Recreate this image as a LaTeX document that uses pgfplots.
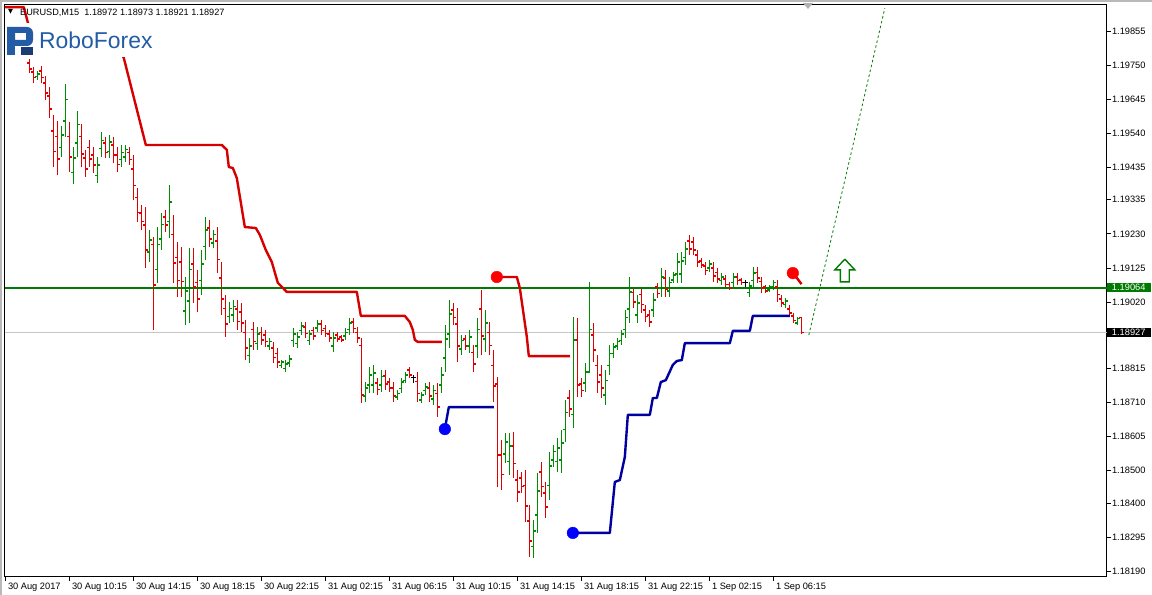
\documentclass[border=0pt]{standalone}
\usepackage{pgfplots}
\pgfplotsset{compat=1.18}
\usepackage{pgfplotstable}
\usepackage{fontspec}
\setmainfont{Liberation Sans}
\newfontfamily\dejavu{DejaVu Sans}

\definecolor{barG}{RGB}{0,140,0}
\definecolor{barR}{RGB}{225,0,0}
\definecolor{indR}{RGB}{215,0,0}
\definecolor{dotR}{RGB}{255,0,0}
\definecolor{indB}{RGB}{0,0,160}
\definecolor{dotB}{RGB}{0,0,255}
\definecolor{lvlG}{RGB}{0,122,0}
\definecolor{logoB}{RGB}{35,92,165}
\definecolor{logoD}{RGB}{25,60,115}

\pgfplotstableread{
i H L O C
6 1.19769 1.19726 1.19757 1.19738
7 1.19744 1.19695 1.19729 1.19711
9 1.19747 1.19695 1.19732 1.19711
10 1.19717 1.19643 1.19695 1.19664
11 1.19683 1.19587 1.19655 1.19615
12 1.19596 1.19436 1.19547 1.19485
13 1.19578 1.19411 1.19529 1.19461
16 1.19575 1.19421 1.19529 1.19467
19 1.19569 1.19436 1.19529 1.19476
20 1.19489 1.19405 1.19464 1.19430
21 1.19519 1.19436 1.19495 1.19461
22 1.19498 1.19418 1.19473 1.19442
25 1.19529 1.19464 1.19510 1.19482
27 1.19529 1.19448 1.19504 1.19473
28 1.19498 1.19421 1.19473 1.19445
31 1.19498 1.19442 1.19482 1.19458
32 1.19473 1.19334 1.19430 1.19378
33 1.19371 1.19267 1.19341 1.19297
34 1.19319 1.19242 1.19294 1.19267
35 1.19313 1.19125 1.19257 1.19180
37 1.19220 1.18934 1.19196 1.19072
40 1.19304 1.19236 1.19282 1.19257
42 1.19288 1.19079 1.19227 1.19140
43 1.19205 1.19035 1.19156 1.19085
44 1.19190 1.19035 1.19143 1.19082
47 1.19186 1.19017 1.19137 1.19066
48 1.19119 1.18989 1.19079 1.19029
51 1.19273 1.19190 1.19248 1.19214
53 1.19251 1.19109 1.19208 1.19152
54 1.19143 1.18980 1.19094 1.19029
55 1.19042 1.18912 1.19001 1.18952
58 1.19026 1.18934 1.18998 1.18961
59 1.19017 1.18927 1.18989 1.18955
60 1.18964 1.18841 1.18927 1.18878
62 1.18958 1.18872 1.18934 1.18897
64 1.18943 1.18887 1.18927 1.18903
65 1.18934 1.18881 1.18918 1.18897
67 1.18897 1.18832 1.18878 1.18850
68 1.18878 1.18816 1.18860 1.18835
75 1.18958 1.18909 1.18943 1.18924
77 1.18943 1.18903 1.18931 1.18915
79 1.18964 1.18918 1.18952 1.18931
80 1.18949 1.18912 1.18937 1.18924
81 1.18934 1.18897 1.18921 1.18909
83 1.18927 1.18897 1.18918 1.18906
84 1.18918 1.18897 1.18912 1.18903
87 1.18971 1.18924 1.18958 1.18937
88 1.18943 1.18893 1.18927 1.18909
89 1.18909 1.18709 1.18887 1.18733
93 1.18786 1.18733 1.18770 1.18749
95 1.18810 1.18749 1.18792 1.18767
96 1.18786 1.18742 1.18773 1.18755
97 1.18773 1.18712 1.18755 1.18730
101 1.18820 1.18786 1.18810 1.18795
103 1.18804 1.18712 1.18776 1.18739
106 1.18773 1.18712 1.18755 1.18730
108 1.18770 1.18665 1.18739 1.18696
112 1.19017 1.18949 1.18995 1.18971
113 1.19001 1.18835 1.18952 1.18884
115 1.18918 1.18872 1.18906 1.18884
117 1.18887 1.18804 1.18863 1.18829
119 1.19057 1.18856 1.18998 1.18915
121 1.18958 1.18856 1.18927 1.18887
122 1.18872 1.18712 1.18823 1.18761
123 1.18789 1.18450 1.18767 1.18548
124 1.18595 1.18440 1.18548 1.18487
127 1.18619 1.18477 1.18576 1.18521
128 1.18502 1.18403 1.18471 1.18434
129 1.18496 1.18431 1.18477 1.18450
130 1.18502 1.18342 1.18453 1.18391
131 1.18394 1.18234 1.18345 1.18283
134 1.18527 1.18419 1.18496 1.18450
135 1.18465 1.18354 1.18431 1.18388
141 1.18749 1.18665 1.18724 1.18690
143 1.18971 1.18727 1.18903 1.18764
144 1.18786 1.18727 1.18767 1.18746
147 1.18955 1.18835 1.18918 1.18872
148 1.18856 1.18739 1.18823 1.18773
149 1.18826 1.18724 1.18795 1.18755
157 1.19066 1.19001 1.19048 1.19020
159 1.19066 1.18986 1.19042 1.19011
160 1.19011 1.18958 1.18995 1.18974
161 1.18995 1.18943 1.18980 1.18958
163 1.19079 1.19032 1.19066 1.19045
165 1.19119 1.19035 1.19094 1.19060
171 1.19227 1.19165 1.19208 1.19183
172 1.19220 1.19165 1.19205 1.19180
173 1.19180 1.19128 1.19165 1.19143
174 1.19156 1.19125 1.19146 1.19134
175 1.19143 1.19103 1.19131 1.19116
177 1.19143 1.19082 1.19125 1.19100
178 1.19125 1.19079 1.19112 1.19091
180 1.19103 1.19063 1.19091 1.19075
181 1.19082 1.19057 1.19075 1.19063
183 1.19109 1.19072 1.19097 1.19085
184 1.19094 1.19072 1.19088 1.19079
188 1.19128 1.19079 1.19112 1.19094
189 1.19097 1.19048 1.19082 1.19063
190 1.19072 1.19048 1.19066 1.19054
193 1.19088 1.19020 1.19066 1.19042
194 1.19042 1.19005 1.19029 1.19017
196 1.19011 1.18974 1.18998 1.18986
197 1.18986 1.18955 1.18977 1.18964
199 1.18973 1.18921 1.18972 1.18927
}\redbars

\pgfplotstableread{
i H L O C
8 1.19732 1.19704 1.19714 1.19723
14 1.19562 1.19467 1.19495 1.19535
15 1.19692 1.19529 1.19578 1.19643
17 1.19498 1.19384 1.19418 1.19464
18 1.19609 1.19467 1.19510 1.19566
23 1.19467 1.19387 1.19411 1.19442
24 1.19544 1.19467 1.19492 1.19519
26 1.19535 1.19464 1.19485 1.19513
29 1.19504 1.19436 1.19458 1.19482
30 1.19504 1.19452 1.19467 1.19489
36 1.19242 1.19143 1.19174 1.19211
38 1.19251 1.19079 1.19119 1.19196
39 1.19294 1.19180 1.19214 1.19260
41 1.19381 1.19217 1.19267 1.19328
45 1.19097 1.18949 1.18992 1.19054
46 1.19186 1.18955 1.19023 1.19119
49 1.19180 1.19042 1.19085 1.19137
50 1.19282 1.19149 1.19190 1.19242
52 1.19242 1.19186 1.19202 1.19227
56 1.19020 1.18955 1.18974 1.19001
57 1.19026 1.18958 1.18980 1.19005
61 1.18909 1.18832 1.18856 1.18884
63 1.18943 1.18872 1.18893 1.18921
66 1.18909 1.18872 1.18884 1.18897
69 1.18841 1.18816 1.18823 1.18835
70 1.18841 1.18804 1.18816 1.18829
71 1.18856 1.18820 1.18832 1.18844
72 1.18940 1.18881 1.18900 1.18921
73 1.18927 1.18878 1.18893 1.18912
74 1.18958 1.18918 1.18931 1.18946
76 1.18934 1.18887 1.18900 1.18921
78 1.18964 1.18927 1.18940 1.18952
82 1.18927 1.18866 1.18884 1.18909
85 1.18940 1.18903 1.18915 1.18927
86 1.18971 1.18918 1.18934 1.18955
90 1.18773 1.18712 1.18730 1.18755
91 1.18820 1.18739 1.18764 1.18795
92 1.18826 1.18739 1.18764 1.18801
94 1.18810 1.18742 1.18764 1.18789
98 1.18749 1.18718 1.18727 1.18739
99 1.18786 1.18739 1.18752 1.18773
100 1.18804 1.18770 1.18779 1.18795
104 1.18742 1.18709 1.18718 1.18733
105 1.18770 1.18733 1.18746 1.18758
107 1.18764 1.18702 1.18721 1.18746
109 1.18820 1.18739 1.18764 1.18795
110 1.18949 1.18804 1.18847 1.18906
111 1.19026 1.18878 1.18921 1.18983
114 1.18918 1.18856 1.18875 1.18900
116 1.18934 1.18863 1.18884 1.18912
118 1.18971 1.18847 1.18884 1.18934
120 1.18995 1.18866 1.18906 1.18955
125 1.18616 1.18524 1.18551 1.18588
126 1.18616 1.18487 1.18527 1.18576
132 1.18348 1.18231 1.18265 1.18314
133 1.18493 1.18308 1.18363 1.18437
136 1.18558 1.18410 1.18453 1.18514
137 1.18579 1.18511 1.18533 1.18558
138 1.18601 1.18496 1.18527 1.18570
139 1.18625 1.18493 1.18533 1.18585
140 1.18718 1.18588 1.18628 1.18678
142 1.18974 1.18632 1.18672 1.18903
145 1.18832 1.18742 1.18770 1.18804
146 1.19082 1.18801 1.18804 1.18934
150 1.18810 1.18702 1.18733 1.18779
151 1.18887 1.18795 1.18823 1.18860
152 1.18893 1.18847 1.18860 1.18881
153 1.18909 1.18872 1.18884 1.18897
154 1.18934 1.18887 1.18900 1.18921
155 1.18995 1.18909 1.18934 1.18971
156 1.19097 1.18955 1.18998 1.19051
158 1.19042 1.18955 1.18980 1.19017
162 1.19048 1.18974 1.18995 1.19026
164 1.19125 1.19035 1.19063 1.19097
166 1.19097 1.19035 1.19054 1.19079
167 1.19112 1.19079 1.19088 1.19103
168 1.19171 1.19079 1.19106 1.19143
169 1.19174 1.19079 1.19106 1.19146
170 1.19205 1.19134 1.19156 1.19183
176 1.19149 1.19112 1.19125 1.19137
179 1.19109 1.19072 1.19085 1.19097
182 1.19109 1.19066 1.19079 1.19097
186 1.19082 1.19035 1.19048 1.19069
187 1.19128 1.19066 1.19085 1.19109
191 1.19072 1.19051 1.19057 1.19066
192 1.19088 1.19057 1.19066 1.19079
195 1.19032 1.19001 1.19011 1.19023
198 1.18974 1.18949 1.18955 1.18968
}\greenbars

\pgfplotstableread{
i H L O C
102 1.18795 1.18770 1.18786 1.18786
185 1.19088 1.19066 1.19079 1.19079
}\dojibars

% one vertical high-low segment per row of a bar table
\newcommand\drawhl[2]{%
  \pgfplotstablegetrowsof{#1}%
  \pgfmathtruncatemacro\nrows{\pgfplotsretval-1}%
  \pgfplotsforeachungrouped \k in {0,...,\nrows}{%
    \pgfplotstablegetelem{\k}{i}\of#1\let\bi\pgfplotsretval
    \pgfplotstablegetelem{\k}{H}\of#1\let\bh\pgfplotsretval
    \pgfplotstablegetelem{\k}{L}\of#1\let\bl\pgfplotsretval
    \edef\hltemp{\noexpand\addplot[draw=#2, line width=1.4bp, mark=none, forget plot] coordinates {(\bi,\bh) (\bi,\bl)};}%
    \hltemp
  }%
}

\begin{document}
\begin{tikzpicture}
\path[use as bounding box] (0,0) rectangle (1152bp,595bp);
\begin{axis}[
  at={(4.5bp,18.5bp)}, anchor=south west,
  scale only axis, width=1102bp, height=572bp,
  xmin=-0.25, xmax=275.25, ymin=1.181736, ymax=1.199371,
  clip=false,
  axis line style={black, line width=1bp},
  xtick={0,16,...,192},
  xticklabels={30 Aug 2017, 30 Aug 10:15, 30 Aug 14:15, 30 Aug 18:15, 30 Aug 22:15, 31 Aug 02:15, 31 Aug 06:15, 31 Aug 10:15, 31 Aug 14:15, 31 Aug 18:15, 31 Aug 22:15, 1 Sep 02:15, 1 Sep 06:15},
  ytick={1.19855,1.19750,1.19645,1.19540,1.19435,1.19335,1.19230,1.19125,1.19020,1.18815,1.18710,1.18605,1.18500,1.18400,1.18295,1.18190},
  yticklabels={1.19855,1.19750,1.19645,1.19540,1.19435,1.19335,1.19230,1.19125,1.19020,1.18815,1.18710,1.18605,1.18500,1.18400,1.18295,1.18190},
  xtick pos=bottom, ytick pos=right, yticklabel pos=right,
  tick align=outside, major tick length=4bp,
  tick style={black, line width=0.8bp},
  ticklabel style={font=\fontsize{9.3}{10}\selectfont, text=black},
  xticklabel style={anchor=north west, xshift=-1pt, yshift=1pt},
  yticklabel style={anchor=west, xshift=-2pt},
  scaled y ticks=false,
]
% current price line
\addplot[gray!45, line width=1bp, forget plot] coordinates {(-0.25,1.18927) (275.25,1.18927)};

% OHLC bars: high-low ranges
\drawhl{\redbars}{barR}
\drawhl{\greenbars}{barG}
\drawhl{\dojibars}{black}
% open (left) and close (right) ticks
\addplot[only marks, mark=-, mark size=1bp, mark options={draw=barR, line width=1.2bp, xshift=-1.6bp}, forget plot] table[x=i, y=O] {\redbars};
\addplot[only marks, mark=-, mark size=1bp, mark options={draw=barR, line width=1.2bp, xshift=1.6bp}, forget plot] table[x=i, y=C] {\redbars};
\addplot[only marks, mark=-, mark size=1bp, mark options={draw=barG, line width=1.2bp, xshift=-1.6bp}, forget plot] table[x=i, y=O] {\greenbars};
\addplot[only marks, mark=-, mark size=1bp, mark options={draw=barG, line width=1.2bp, xshift=1.6bp}, forget plot] table[x=i, y=C] {\greenbars};
\addplot[only marks, mark=-, mark size=2.6bp, mark options={draw=black, line width=1.2bp}, forget plot] table[x=i, y=O] {\dojibars};

% level line
\addplot[lvlG, line width=2bp] coordinates {(-0.25,1.19064) (275.25,1.19064)};

% red trailing line
\addplot[indR, line width=2.4bp, line join=round] coordinates {
(-0.18,1.19929) (4.58,1.19929) (6.08,1.19858) (8.58,1.19812) (28.08,1.19812)
(29.58,1.19772) (35.08,1.19504) (54.08,1.19504) (55.33,1.19489) (55.83,1.19436)
(56.83,1.19433) (57.83,1.19402) (59.83,1.19251) (62.58,1.19248) (63.58,1.19227)
(65.08,1.19180) (66.58,1.19143) (68.08,1.19079) (70.33,1.19051) (87.83,1.19051)
(88.83,1.18977) (99.83,1.18977) (101.08,1.18958) (101.83,1.18934) (102.33,1.18903)
(103.08,1.18897) (109.08,1.18897)};
\addplot[indR, line width=2.4bp, line join=round] coordinates {
(122.83,1.19097) (127.83,1.19097) (128.58,1.19063) (130.33,1.18912) (130.83,1.18853) (141.08,1.18853)};
\addplot[indR, line width=2.4bp, line join=round] coordinates {
(196.83,1.19109) (197.83,1.19094) (199.0,1.19075)};
\addplot[only marks, mark=*, mark size=5.8bp, mark options={draw=dotR, fill=dotR}] coordinates {(122.83,1.19097) (196.83,1.19109)};

% blue trailing line
\addplot[indB, line width=2.4bp, line join=round] coordinates {
(109.83,1.18628) (110.83,1.18696) (122.08,1.18696)};
\addplot[indB, line width=2.4bp, line join=round] coordinates {
(141.83,1.18308) (151.08,1.18308) (152.33,1.18465) (153.58,1.18471) (154.83,1.18542)
(155.58,1.18672) (161.08,1.18672) (161.83,1.18724) (162.83,1.18724) (163.83,1.18773)
(165.08,1.18779) (166.83,1.18826) (167.83,1.18838) (169.08,1.18841) (169.83,1.18893)
(181.08,1.18893) (181.83,1.18931) (186.08,1.18931) (186.83,1.18977) (196.08,1.18977)};
\addplot[only marks, mark=*, mark size=5.8bp, mark options={draw=dotB, fill=dotB}] coordinates {(109.83,1.18628) (141.83,1.18308)};

% forecast
\addplot[lvlG, line width=0.8bp, dash pattern=on 2.5bp off 2.5bp] coordinates {(200.83,1.18918) (219.83,1.19926)};
\addplot[lvlG, line width=1.4bp, fill=white, line join=miter] coordinates {
(209.83,1.19152) (212.33,1.19119) (210.93,1.19119) (210.93,1.19082) (208.73,1.19082)
(208.73,1.19119) (207.33,1.19119) (209.83,1.19152)};

% value labels on the price scale
\node[fill=lvlG, text=white, anchor=west, inner xsep=3.5pt, inner ysep=1.2pt, minimum width=44bp, align=left, font=\fontsize{9.3}{10}\selectfont] at (axis cs:275.25,1.19064) {1.19064};
\node[fill=black, text=white, anchor=west, inner xsep=3.5pt, inner ysep=1.2pt, minimum width=44bp, align=left, font=\fontsize{9.3}{10}\selectfont] at (axis cs:275.25,1.18927) {1.18927};
\end{axis}

\begin{scope}[shift={(0bp,595bp)}, x=1bp, y=-1bp]
  % window edges
  \fill[gray!55] (0,0) rectangle (1152,2.5);
  \fill[gray!55] (0,0) rectangle (2,595);
  % chart shift marker
  \fill[gray!60] (803,3) -- (813,3) -- (808,9) -- cycle;
  % title
  \node[anchor=west, inner sep=0pt, font=\dejavu\fontsize{6.5}{7}\selectfont] at (8,12) {▼};
  \node[anchor=west, inner sep=0pt, font=\fontsize{9.2}{10}\selectfont] at (20,12.5) {EURUSD,M15\ \ 1.18972 1.18973 1.18921 1.18927};
  % logo
  \fill[white] (5,23) rectangle (158,57);
  \fill[logoB, even odd rule] (7,27) -- (27,27) to[out=0,in=90] (33,33) -- (33,40) to[out=-90,in=0] (27,46) -- (7,46) -- cycle
        (15,33) rectangle (26,40);
  \fill[logoB] (7,46) rectangle (15,55);
  \fill[logoD] (21,47) rectangle (33,55);
  \node[anchor=base west, inner sep=0pt, text=logoB, font=\fontsize{23}{24}\selectfont] at (39,49) {RoboForex};
\end{scope}
\end{tikzpicture}
\end{document}
